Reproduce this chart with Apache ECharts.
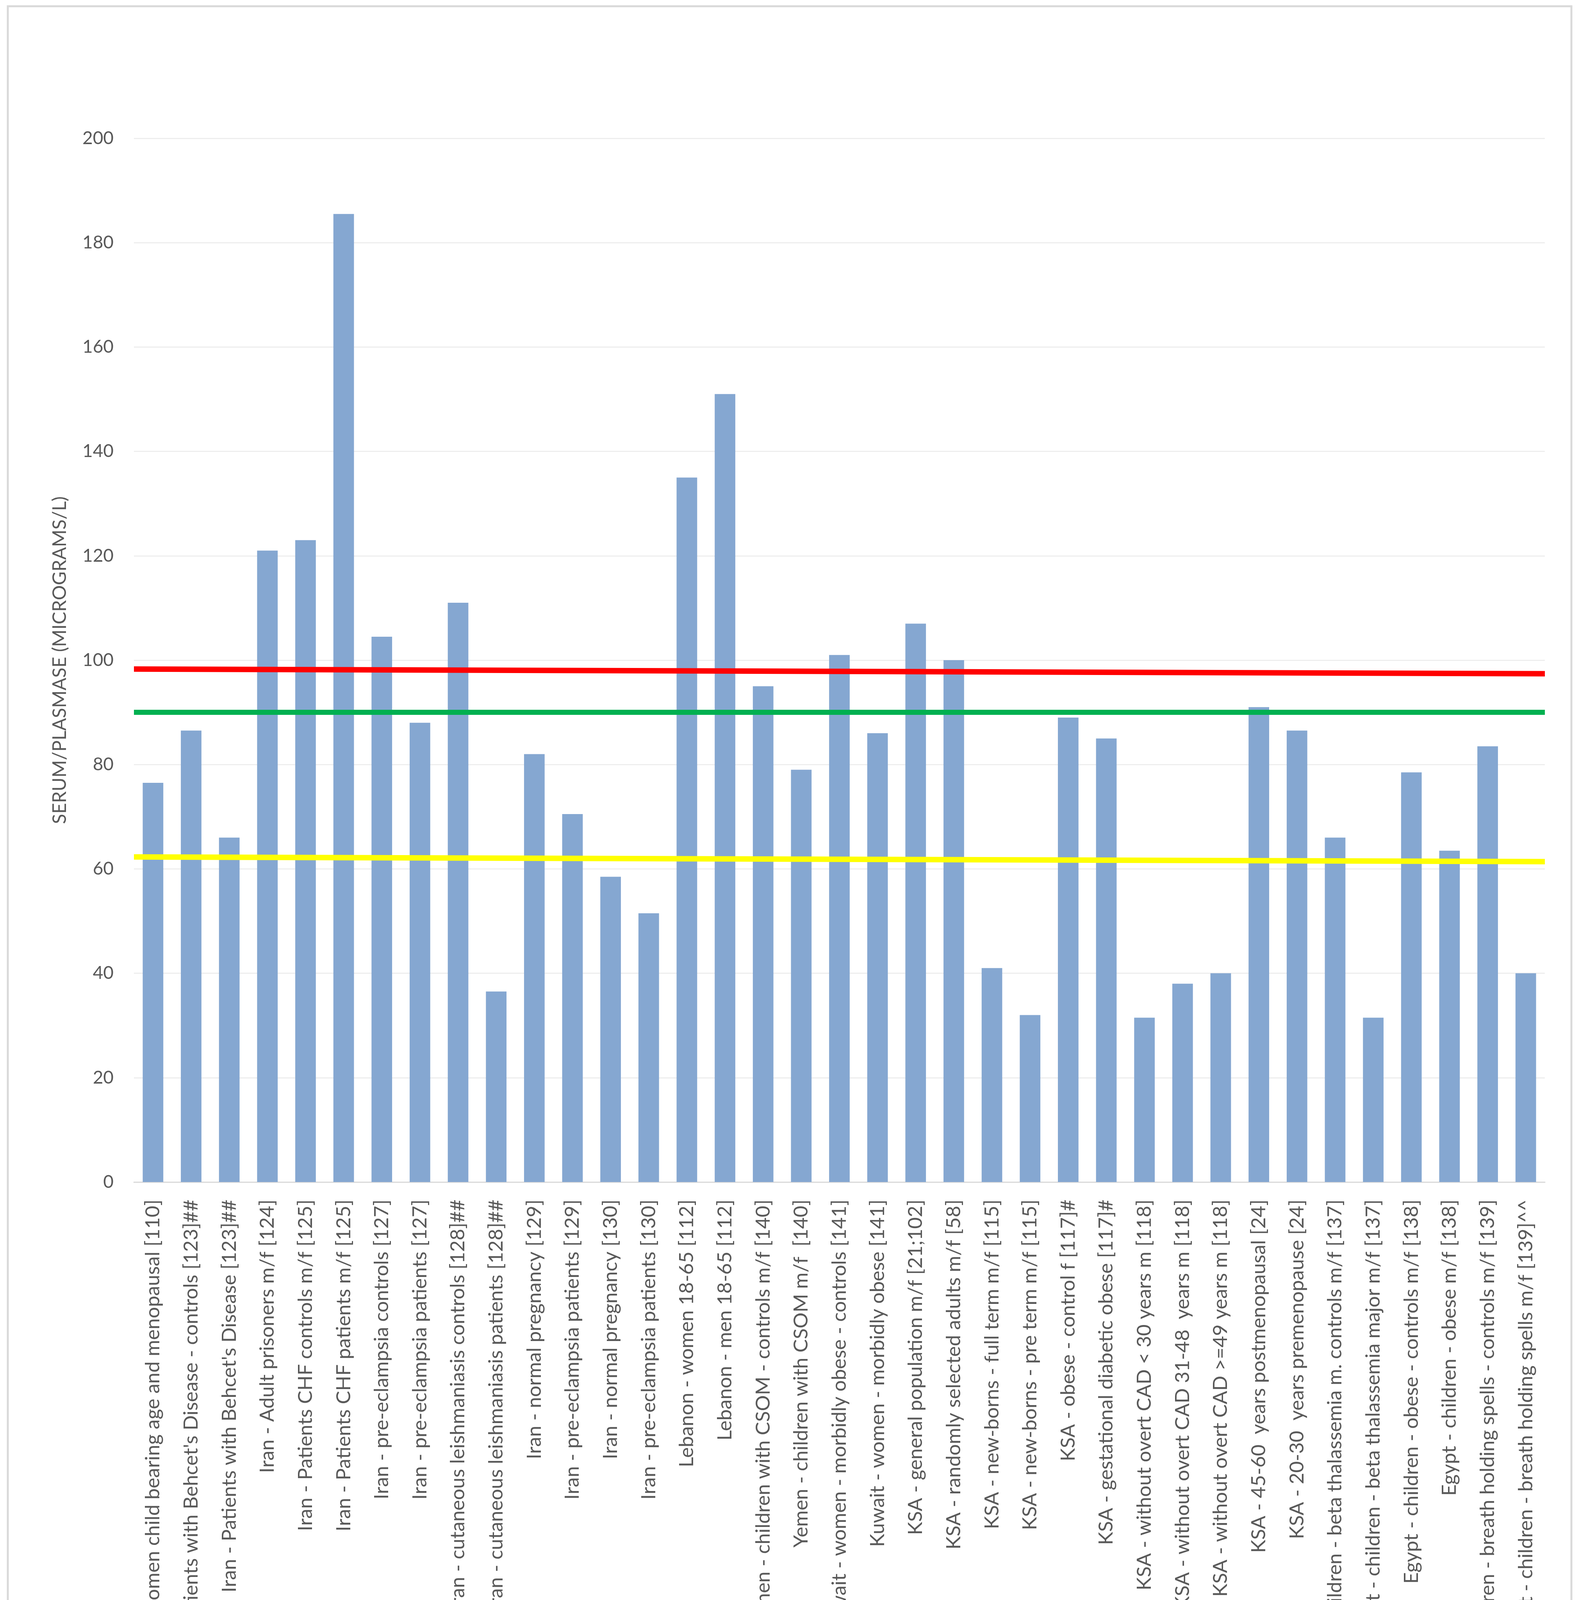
<!DOCTYPE html>
<html lang="en">
	<head>
		<meta charset="UTF-8">
		<title>Serum/plasma Se by country</title>
		<style type="text/css">
			html,
			body {
				margin: 0;
				padding: 0;
				background: #ffffff;
			}

			#main {
				width: 4046px;
				height: 4460px;
			}
		</style>
	</head>
	<body>
		<div id="main"></div>

		<script src="https://cdn.jsdelivr.net/npm/echarts@6/dist/echarts.min.js" type="text/javascript" charset="utf-8"></script>
		<script type="text/javascript">
			let categories = [
				"Iran - women child bearing age and menopausal [110]",
				"Iran - Patients with Behcet's Disease - controls [123]##",
				"Iran - Patients with Behcet's Disease [123]##",
				"Iran - Adult prisoners m/f [124]",
				"Iran - Patients CHF controls m/f [125]",
				"Iran - Patients CHF patients m/f [125]",
				"Iran - pre-eclampsia controls [127]",
				"Iran - pre-eclampsia patients [127]",
				"Iran - cutaneous leishmaniasis controls [128]##",
				"Iran - cutaneous leishmaniasis patients [128]##",
				"Iran - normal pregnancy [129]",
				"Iran - pre-eclampsia patients [129]",
				"Iran - normal pregnancy [130]",
				"Iran - pre-eclampsia patients [130]",
				"Lebanon - women 18-65 [112]",
				"Lebanon - men 18-65 [112]",
				"Yemen - children with CSOM - controls m/f [140]",
				"Yemen - children with CSOM m/f  [140]",
				"Kuwait - women - morbidly obese - controls [141]",
				"Kuwait - women - morbidly obese [141]",
				"KSA - general population m/f [21;102]",
				"KSA - randomly selected adults m/f [58]",
				"KSA - new-borns - full term m/f [115]",
				"KSA - new-borns - pre term m/f [115]",
				"KSA - obese - control f [117]#",
				"KSA - gestational diabetic obese [117]#",
				"KSA - without overt CAD < 30 years m [118]",
				"KSA - without overt CAD 31-48  years m [118]",
				"KSA - without overt CAD >=49 years m [118]",
				"KSA - 45-60  years postmenopausal [24]",
				"KSA - 20-30  years premenopause [24]",
				"Egypt - children - beta thalassemia m. controls m/f [137]",
				"Egypt - children - beta thalassemia major m/f [137]",
				"Egypt - children - obese - controls m/f [138]",
				"Egypt - children - obese m/f [138]",
				"Egypt - children - breath holding spells - controls m/f [139]",
				"Egypt - children - breath holding spells m/f [139]^^"
			];

			let seValues = [
				76.5, 86.5, 66, 121, 123, 185.5, 104.5, 88, 111, 36.5,
				82, 70.5, 58.5, 51.5, 135, 151, 95, 79, 101, 86,
				107, 100, 41, 32, 89, 85, 31.5, 38, 40, 91,
				86.5, 66, 31.5, 78.5, 63.5, 83.5, 40
			];

			// hand drawn reference lines: [start, end] values
			let redLine = [98.3, 97.4];
			let greenLine = [90, 90];
			let yellowLine = [62.3, 61.4];
			let lineEnds = [0, 1];

			let yTicks = { min: 0, max: 200, interval: 20 };

			function toPairs(vals) {
				return lineEnds.map((x, i) => [x, vals[i]]);
			}

			let fontFamily = 'Lato, "Open Sans", sans-serif';
			let textColor = '#595959';

			var myChart = echarts.init(document.getElementById('main'));
			var option = {
				animation: false,
				backgroundColor: '#ffffff',
				textStyle: {
					fontFamily: fontFamily
				},
				graphic: [{
					type: 'rect',
					shape: { x: 20, y: 16, width: 4004, height: 4426 },
					style: { fill: 'none', stroke: '#d9d9d9', lineWidth: 5 },
					silent: true
				}],
				grid: {
					left: 343,
					right: 90,
					top: 354,
					bottom: 4460 - 3026,
					containLabel: false,
					outerBoundsMode: 'none'
				},
				xAxis: [{
					type: 'category',
					data: categories,
					name: 'SE STATUS BY COUNTRY, AGE, SEX, ETC.',
					nameLocation: 'middle',
					nameGap: 1355,
					nameTextStyle: {
						color: textColor,
						fontSize: 42,
						fontFamily: fontFamily
					},
					axisLine: {
						lineStyle: { color: '#d9d9d9', width: 3 }
					},
					axisTick: { show: false },
					axisLabel: {
						interval: 0,
						rotate: 90,
						margin: 45,
						color: textColor,
						fontSize: 51,
						fontFamily: fontFamily
					}
				}, {
					type: 'value',
					min: 0,
					max: 1,
					show: false
				}],
				yAxis: {
					type: 'value',
					min: yTicks.min,
					max: yTicks.max,
					interval: yTicks.interval,
					name: 'SERUM/PLASMASE (MICROGRAMS/L)',
					nameLocation: 'middle',
					nameRotate: 90,
					nameGap: 165,
					nameTextStyle: {
						color: textColor,
						fontSize: 48,
						fontFamily: fontFamily
					},
					axisLine: { show: false },
					axisTick: { show: false },
					axisLabel: {
						margin: 52,
						color: textColor,
						fontSize: 46,
						fontFamily: fontFamily
					},
					splitLine: {
						lineStyle: { color: '#eeeeee', width: 3 }
					}
				},
				series: [{
					type: 'bar',
					data: seValues,
					barWidth: '54%',
					itemStyle: { color: '#85a7d1' }
				}, {
					type: 'line',
					xAxisIndex: 1,
					data: toPairs(redLine),
					symbol: 'none',
					lineStyle: { color: '#ff0000', width: 14 },
					z: 5
				}, {
					type: 'line',
					xAxisIndex: 1,
					data: toPairs(greenLine),
					symbol: 'none',
					lineStyle: { color: '#00b050', width: 13 },
					z: 5
				}, {
					type: 'line',
					xAxisIndex: 1,
					data: toPairs(yellowLine),
					symbol: 'none',
					lineStyle: { color: '#ffff00', width: 14 },
					z: 5
				}]
			};

			myChart.setOption(option);
		</script>
	</body>
</html>
